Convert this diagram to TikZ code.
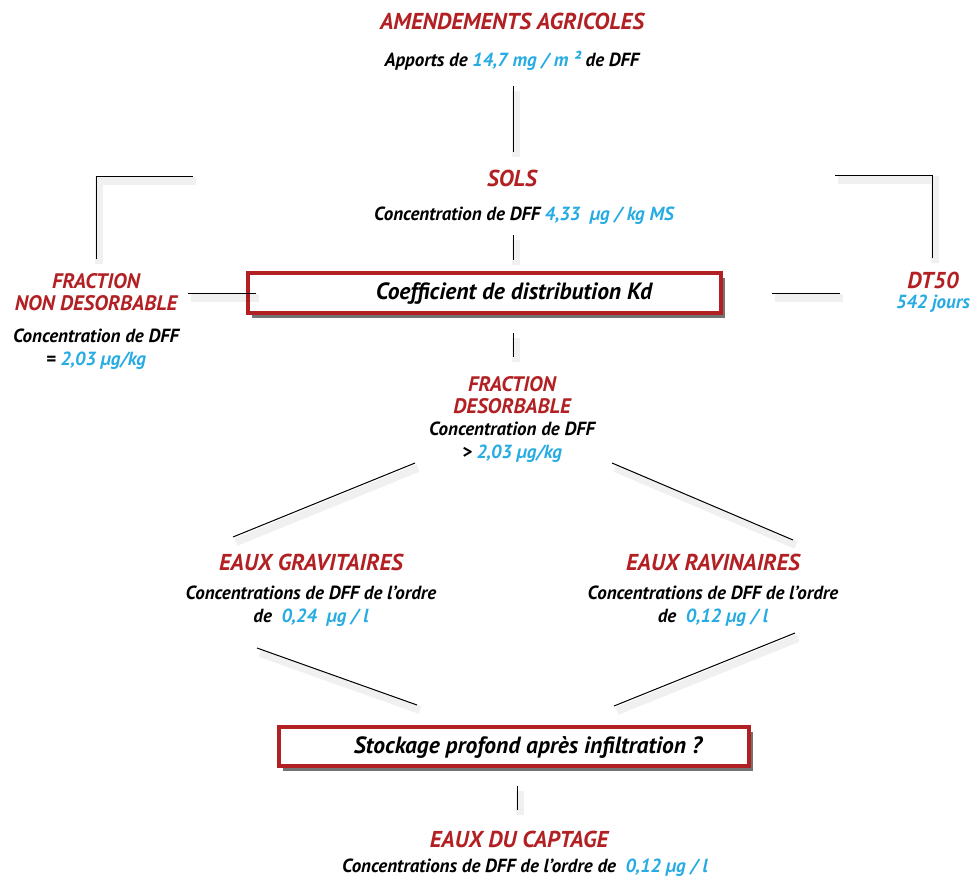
\documentclass[tikz,border=0pt]{standalone}
\usepackage{fontspec}
\setmainfont{PT Sans}
\usetikzlibrary{shadows}
\definecolor{tred}{RGB}{178,32,36}
\definecolor{tblue}{RGB}{38,172,226}
\newcommand{\bl}[1]{\textcolor{tblue}{#1}}
\begin{document}
\begin{tikzpicture}[x=1pt,y=-1pt,
  title/.style={text=tred, font=\fontsize{23}{23}\selectfont\bfseries\itshape, align=center, inner sep=0pt},
  smalltitle/.style={title, font=\fontsize{21}{22.5}\selectfont\bfseries\itshape},
  body/.style={text=black, font=\fontsize{19}{22.5}\selectfont\bfseries\itshape, align=center, inner sep=0pt},
  kbox/.style={draw=tred, line width=3.4pt, fill=white, inner sep=0pt,
    drop shadow={shadow xshift=4pt, shadow yshift=-5pt, fill=black, opacity=0.55}},
  boxtext/.style={text=black, font=\fontsize{23.5}{24}\selectfont\bfseries\itshape, inner sep=0pt},
  conn/.style={line width=1pt, black, line cap=butt,
    preaction={draw=black, opacity=0.06, line width=8pt, transform canvas={xshift=3pt,yshift=-5pt}}},
]
\useasboundingbox (0,0) rectangle (972,878);

% top
\node[title] (amend) at (512,21) {AMENDEMENTS AGRICOLES};
\node[body] (apports) at (512,61) {Apports de \bl{14,7 mg / m ²} de DFF};
\coordinate (a1) at (513,86); \coordinate (a2) at (513,152);
\draw[conn] (a1) -- (a2);

\node[title] (sols) at (512,178) {SOLS};
\node[body] (csols) at (524,216) {Concentration de DFF \bl{4,33 \ µg / kg MS}};
\coordinate (s1) at (513,235); \coordinate (s2) at (513,260);
\draw[conn] (s1) -- (s2);

% Kd box
\node[kbox, minimum width=473pt, minimum height=40pt] (kd) at (484.5,293) {};
\node[boxtext] (kdtext) at (514,294) {Coefficient de distribution Kd};

% left side
\node[smalltitle] (fnd) at (96,292) {FRACTION\\NON DESORBABLE};
\node[body] (cfnd) at (96,349) {Concentration de DFF\\= \bl{2,03 µg/kg}};
\coordinate (l1) at (96,259); \coordinate (l2) at (96,176); \coordinate (l3) at (193,176);
\draw[conn] (l1) -- (l2) -- (l3);
\coordinate (lh1) at (188,293); \coordinate (lh2) at (256,293);
\draw[conn] (lh1) -- (lh2);

% right side
\node[title] (dt) at (933,280) {DT50};
\node[body, text=tblue] (jours) at (933,304) {542 jours};
\coordinate (r1) at (835,175); \coordinate (r2) at (932,175); \coordinate (r3) at (932,258);
\draw[conn] (r1) -- (r2) -- (r3);
\coordinate (rh1) at (772,293); \coordinate (rh2) at (840,293);
\draw[conn] (rh1) -- (rh2);

% desorbable
\coordinate (k1) at (513,333); \coordinate (k2) at (513,357);
\draw[conn] (k1) -- (k2);
\node[smalltitle] (fd) at (512,395) {FRACTION\\DESORBABLE};
\node[body] (cfd) at (512,442) {Concentration de DFF\\> \bl{2,03 µg/kg}};

\coordinate (d1) at (415,463); \coordinate (d2) at (233,537);
\coordinate (d3) at (612,463); \coordinate (d4) at (793,540);
\draw[conn] (d1) -- (d2);
\draw[conn] (d3) -- (d4);

% eaux
\node[title] (grav) at (311,562) {EAUX GRAVITAIRES};
\node[body] (cgrav) at (311,606) {Concentrations de DFF de l’ordre\\de \ \bl{0,24 \ µg / l}};
\node[title] (rav) at (713,562) {EAUX RAVINAIRES};
\node[body] (crav) at (713,606) {Concentrations de DFF de l’ordre\\de \ \bl{0,12 µg / l}};

\coordinate (g1) at (257,648); \coordinate (g2) at (417,705);
\coordinate (g3) at (795,633); \coordinate (g4) at (614,706);
\draw[conn] (g1) -- (g2);
\draw[conn] (g3) -- (g4);

% stockage box
\node[kbox, minimum width=470pt, minimum height=39pt] (stock) at (514,746.5) {};
\node[boxtext] (stocktext) at (528,747.5) {Stockage profond après infiltration ?};

\coordinate (c1) at (517,786); \coordinate (c2) at (517,810);
\draw[conn] (c1) -- (c2);
\node[title] (capt) at (519,839) {EAUX DU CAPTAGE};
\node[body] (ccapt) at (525,868) {Concentrations de DFF de l’ordre de \ \bl{0,12 µg / l}};
\end{tikzpicture}
\end{document}
